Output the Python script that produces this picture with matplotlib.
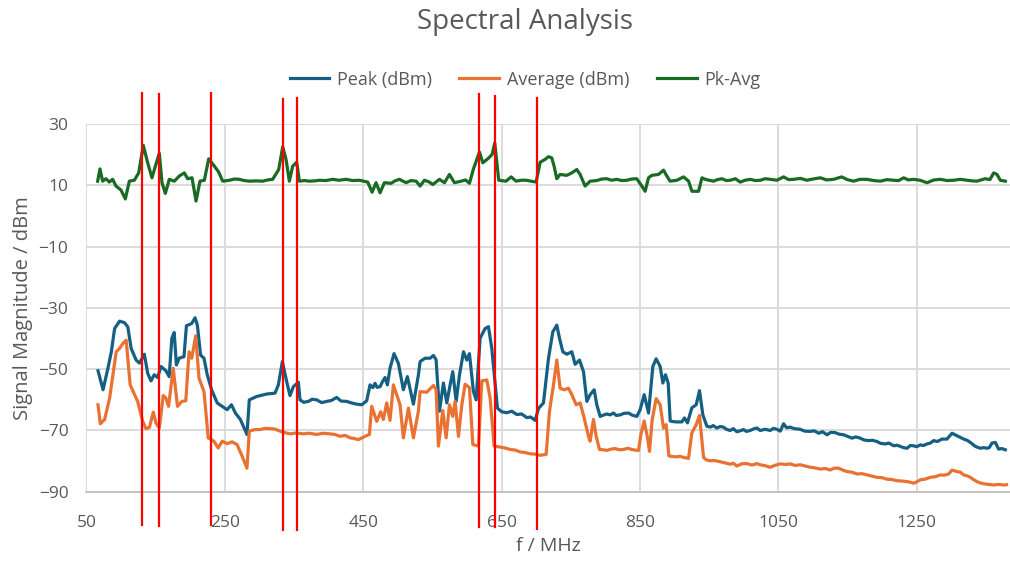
import matplotlib.pyplot as plt

plt.rcParams['font.family'] = ['Open Sans', 'DejaVu Sans']

# Peak (dBm)
freq_peak = [66.7, 74, 81, 86, 90.7, 97.9, 105, 109.8, 114.6, 121.8, 126.6, 133.7, 138.5, 143.3,
             148, 152.9, 157.7, 164.8, 169.6, 173.4, 176.8, 180, 184, 191, 194.5, 202, 207, 210.3,
             215, 219.9, 224.6, 230.9, 239, 246, 253.4, 259.6, 265.3, 272.5, 282, 285.4, 296,
             310.5, 322.6, 327.4, 333.2, 339.4, 344.2, 349.1, 356.3, 358.7, 364, 370.8, 376, 382.8,
             390, 397.3, 404, 411.7, 418, 426.2, 433, 440.6, 448, 455.1, 459.9, 464, 467.2, 470,
             474.4, 478, 481.6, 485, 488.8, 494.6, 500.9, 508.1, 513.9, 522.6, 529.8, 532.3, 539.5,
             546.8, 551.6, 555.4, 560.3, 566, 570.9, 575.7, 579.5, 584.4, 589.2, 595, 599.8, 603.6,
             609.4, 613.3, 619, 626.3, 631.1, 635.9, 644.1, 650.4, 657.6, 664.9, 672.1, 679, 686.5,
             692, 698.6, 703.4, 710.6, 717.9, 724.1, 729.9, 733.8, 738.6, 744.4, 751.6, 756.4,
             762.7, 768.5, 773.3, 778.1, 783.9, 787.7, 792.6, 797, 802.2, 807, 811.8, 816, 821.5,
             827, 833.5, 839, 845.6, 850.4, 856.2, 862.5, 868.7, 873.5, 879.3, 883.2, 887, 890.9,
             893.8, 898, 903.4, 910.6, 914.5, 918.8, 925.1, 931.4, 936.2, 941, 946.8, 952, 956,
             961.3, 966, 970.9, 975, 980.5, 985, 990.2, 995, 999.8, 1004, 1009.5, 1014, 1019.1,
             1024, 1031, 1038.5, 1043, 1048, 1053, 1057.7, 1062, 1067.4, 1073, 1081.8, 1088,
             1096.3, 1102, 1108.4, 1114, 1120.4, 1126, 1132.5, 1138, 1144.5, 1150, 1156.6, 1162,
             1168.6, 1174, 1180.7, 1186, 1192.7, 1198, 1204.8, 1210, 1216.8, 1222, 1226.4, 1231,
             1236.1, 1241, 1245.7, 1250, 1255.4, 1260, 1265, 1270, 1274.6, 1280, 1286.7, 1293.9,
             1301.2, 1308.4, 1313, 1318, 1323, 1327.7, 1334.9, 1342.1, 1347, 1351.8, 1355, 1359,
             1363.8, 1368.6, 1373, 1378.3]
peak = [-50.5, -56.7, -49.7, -44.3, -36.7, -34.3, -34.8, -36.2, -43.2, -47, -48, -45.1, -51.3, -53.8,
        -51.8, -52.7, -49.1, -50.5, -52.4, -39.9, -38, -48.6, -46.4, -45.9, -35.8, -35.1, -33.2, -35.6,
        -45.4, -46.4, -51.8, -56.7, -61, -62.1, -63.2, -61.6, -64.3, -66.4, -71.3, -60, -58.9,
        -58.1, -57.8, -55.1, -47.5, -54, -58.6, -55.7, -54.2, -60, -60.8, -60.5, -59.8, -60,
        -60.9, -60.5, -60.2, -59.2, -60.4, -60.5, -61, -61.4, -61.6, -60.3, -55.1, -56, -54.6, -55.9,
        -55.7, -54, -52.7, -55.1, -49.7, -44.9, -48.1, -56.7, -52.4, -61.4, -51.9, -47.5, -46.4,
        -46.4, -45.5, -46.9, -63.7, -54.5, -61, -55.1, -50.8, -60.5, -51.9, -44.3, -47, -44.9,
        -57.3, -60, -39.9, -36.7, -36.1, -43.2, -62.7, -63.9, -64.2, -63.7, -64.8, -64.6, -65.8,
        -65.6, -66.7, -62.8, -61, -46.4, -37.8, -35.6, -39.9, -44.3, -45.1, -44.3, -48.4,
        -47, -50.8, -60.5, -58.3, -56.7, -61.6, -65.4, -65, -64.6, -64.9, -64.3, -65.1, -64.9,
        -64.4, -64.3, -65, -65.4, -63.2, -58.3, -64.3, -49.1, -46.6, -49.1, -54.5, -51.8, -54.5,
        -66.9, -67.1, -67.2, -67.2, -65.9, -67.5, -62.6, -61.6, -57, -64.9, -68.6, -68.9, -68.4,
        -69.2, -68.7, -68.9, -69.6, -70, -69.4, -70.4, -70.1, -69.7, -70.3, -70, -69.5, -69.2,
        -70, -69.6, -70, -69.3, -69.6, -70.2, -67.8, -69.1, -68.9, -69.4, -69.6, -70.2,
        -70.3, -70.1, -70.9, -70.4, -71.4, -70.6, -70.7, -71.2, -71.4, -71.9, -72.5, -72.1,
        -72.5, -73.1, -73.3, -73.2, -73.6, -74.2, -74.4, -74.1, -75, -74.8, -75.2, -75.6,
        -75.8, -74.9, -75, -75.3, -74.7, -74.9, -74.4, -74.1, -73.3, -73.6, -72.8, -72.8,
        -70.9, -71.7, -72.2, -72.8, -73.2, -73.9, -75.2, -75.8, -75.6, -75.8, -75.6, -74.1,
        -73.9, -76.1, -75.9, -76.3]

# Average (dBm)
freq_avg = [66.7, 70, 76.3, 83.5, 93, 97.9, 102.6, 107.4, 113.2, 124, 131.3, 136, 141, 146.6,
            150.5, 155.3, 161, 164.8, 168.7, 175.4, 181.6, 187.8, 193.6, 198.3, 202.2, 207.9,
            212.7, 219.9, 226, 234.2, 240.4, 246.2, 253.4, 260.5, 267.7, 274.9, 282, 285.4, 294,
            300.9, 308, 315.3, 322, 327.4, 335, 344.2, 353, 363.5, 372, 382.8, 392, 402, 409,
            416.5, 424, 431, 437, 443, 452.7, 459, 462.3, 469.6, 475.3, 479.2, 484, 488.8, 493.7,
            498.5, 503.3, 508.1, 515.4, 522.6, 529.8, 532.3, 541.9, 551.6, 555.4, 558.8, 565.1,
            569.9, 574.7, 579.5, 582.9, 587.7, 592.6, 597.4, 603.6, 608.5, 616.7, 621.5, 628.7,
            633.5, 639.3, 648, 655, 662.4, 670, 676.9, 684, 691.4, 698, 705.8, 714.5, 719.3,
            725.1, 729.9, 734.7, 740.5, 746.8, 751.6, 757.9, 763.7, 769.4, 775.7, 778.1, 782.9,
            786.8, 791.6, 797, 802.2, 808, 814.3, 820, 826.3, 832, 838.4, 843, 848, 851.4, 856.2,
            861, 863.9, 867.8, 873.5, 879.3, 884.1, 888, 891.9, 897, 903.4, 908, 913, 920.3,
            925.1, 931.4, 936.2, 942, 946, 951.6, 958, 966.1, 973, 980.5, 985, 990.2, 997,
            1004.6, 1012, 1019.1, 1024, 1031, 1038.5, 1045, 1052.9, 1060, 1067.4, 1074, 1081.8,
            1089, 1096.3, 1103, 1110.8, 1118, 1125.2, 1131, 1137.3, 1143, 1149.3, 1156, 1163.8,
            1171, 1178.2, 1185, 1192.7, 1200, 1207.2, 1214, 1221.6, 1229, 1236.1, 1241, 1245.7,
            1250, 1255.4, 1262, 1269.8, 1277, 1284.3, 1290, 1296.3, 1301.2, 1308.4, 1313, 1318,
            1323, 1327.7, 1332, 1337.3, 1342, 1346.9, 1354, 1361.4, 1368, 1375.9, 1380]
avg = [-61.6, -67.8, -66.4, -59.4, -44.3, -43.2, -41.6, -40.5, -55.1, -60.5, -67, -69.4, -69, -64,
       -67.6, -69.2, -58.6, -59.4, -62.1, -49.7, -62.1, -60.5, -60.3, -44.3, -46.4, -39.1,
       -52.9, -57.3, -72.4, -73.5, -75.7, -73.5, -74.3, -73.7, -74.6, -78.3, -82.3, -70.2, -69.7,
       -69.7, -69.3, -69.4, -69.5, -70, -70.6, -71.1, -70.8, -71.1, -70.9, -71.3, -70.9, -71.1, -71.3,
       -71.9, -71.6, -72.4, -72.6, -73, -71.9, -71.3, -62.1, -67, -63.9, -66.4, -61, -66.7, -55.1,
       -58.3, -61.6, -72.4, -62.7, -72.4, -63.8, -57.3, -57.5, -55.3, -56.7, -75.1, -63.5,
       -72.4, -61.6, -65.4, -60.5, -71.9, -61.6, -54.9, -56, -74.6, -75.1, -53.8, -53.5,
       -59.4, -75.1, -75.4, -75.7, -76.2, -76.4, -77, -77.2, -77.6, -77.7, -78.1, -77.8, -63.7,
       -55.1, -47, -56.2, -56.7, -56.2, -58.3, -61.6, -61, -65.9, -71.9, -73.5, -66.4,
       -71.9, -76.2, -76.3, -76.5, -76.1, -75.9, -76.3, -76.2, -75.8, -76.2, -76.4, -76.5, -71.3, -66.9,
       -72.4, -76.8, -66.4, -59.6, -61.6, -69.2, -68.1, -78.3, -78.5, -78.6, -78.4, -78.8, -79.1,
       -70.8, -68.1, -65.1, -78.8, -79.6, -79.9, -79.8, -80.2, -80.6, -81, -80.7, -81.6, -80.9,
       -80.8, -81.3, -80.8, -81.2, -81.5, -82, -81.4, -80.9, -81.1, -80.9, -81.4, -81.2,
       -81.6, -82, -82.2, -82.6, -82.4, -82.9, -82.3, -82.3, -82.9, -83.4, -83.6, -84.2,
       -84.1, -84.5, -84.9, -85.3, -85.4, -85.9, -86, -86.4, -86.5, -86.7, -86.9, -87.2,
       -86.8, -86.1, -85.9, -85.3, -85.1, -84.5, -84.6, -84.2, -82.9, -83.4, -83.6, -84.5,
       -84.8, -85.3, -86, -86.7, -87.1, -87.4, -87.6, -87.8, -87.6, -87.8, -87.7]

# Pk-Avg
freq_pkavg = [66.2, 69.5, 73.4, 78.2, 83, 87.9, 92.7, 99.9, 106.2, 112, 119.2, 125.5, 132.2, 138.5,
              144.7, 149.6, 155.3, 159.2, 164, 169.8, 177, 184.3, 191.5, 196.3, 202.6, 208.4,
              214.1, 220.4, 226.7, 234.9, 241.1, 246.9, 256.6, 264, 271, 278, 285.5, 295, 304.8,
              312, 319.2, 327.9, 333.7, 338.5, 343.3, 348.1, 353.9, 357.8, 365, 372.2, 380, 386.7,
              396, 406, 415, 425.3, 435, 444.5, 456.6, 462.9, 468.6, 474.4, 480.7, 490.3, 496,
              502.4, 512, 519, 526.5, 532.3, 538.5, 545, 550.6, 560.2, 567.5, 574.7, 581.9, 591.6,
              598, 603.6, 609.4, 618.1, 622.9, 630.1, 636.4, 640.2, 646, 656.6, 663.9, 671.1, 678,
              685.5, 693, 700, 705.8, 713, 717.8, 722.6, 726, 729.9, 734.7, 744.3, 751.5, 758.8,
              763.6, 770.8, 778, 787.7, 795, 802.2, 809, 816.6, 824, 831.1, 838, 845.5, 852.8,
              857.6, 862.4, 867.2, 876.9, 884.1, 888.9, 893.7, 903.5, 913.1, 920.4, 925.2, 934.8,
              939.7, 944.5, 950, 956.5, 962, 968.6, 975, 980.6, 988, 995.1, 1002, 1009.5, 1017,
              1024, 1031, 1038.5, 1048, 1057.7, 1065, 1072.2, 1082, 1091.5, 1100, 1110.8, 1120,
              1130, 1141.7, 1150, 1159, 1168, 1178.2, 1188, 1197.5, 1207, 1216.8, 1224, 1231.3,
              1238, 1245.7, 1255, 1265, 1275, 1284.3, 1294, 1303.6, 1313, 1322.8, 1330, 1337.3,
              1343, 1349.4, 1356, 1361.4, 1366.2, 1371, 1378.3]
pkavg = [11.4, 15.4, 11.4, 12.2, 11.1, 12, 9.8, 8.5, 5.6, 11.4, 11.7, 14.1, 23.1, 17.4,
         12.5, 16.3, 20.5, 10.9, 7.4, 12, 11.4, 13.1, 14.1, 12.2, 12.5, 4.9,
         11.4, 11.7, 18.7, 16.3, 14.4, 11.4, 11.7, 12.1, 12, 11.6, 11.4, 11.5, 11.4,
         11.8, 12, 15.2, 22.6, 18.5, 11.4, 16.3, 17.6, 11.4, 11.6, 11.4, 11.5, 11.7,
         11.6, 12, 11.7, 12, 11.6, 11.7, 11.1, 7.8, 10.9, 7.6, 10.9, 10.7, 11.5,
         12, 10.9, 11.6, 11.4, 9.8, 11.7, 11.2, 10.3, 12, 10.9, 13.6, 10.9, 11.4,
         11.8, 10.7, 15.4, 20.9, 17.4, 18.7, 20.1, 23.9, 11.7, 11.4, 12.8, 11.4, 11.7,
         11.7, 11.4, 11.1, 17.6, 18.5, 19.4, 19, 16.3, 12.2, 13.6, 13.3, 14.1, 15.2,
         13.6, 9.8, 11.4, 11.6, 12.1, 12.2, 11.7, 12, 11.6, 11.7, 12.1, 12.2, 9.8,
         8.1, 12.5, 13.3, 13.6, 15, 13.1, 11.4, 11.7, 12.8, 11.4, 8.1, 8.1,
         12.5, 12, 11.7, 11.4, 11.9, 12.2, 11.6, 11.7, 12.2, 11.1, 11.7, 12, 11.6,
         11.7, 12.2, 12, 11.7, 12.8, 11.9, 12, 12.3, 11.7, 12.1, 12.5, 11.8,
         12, 12.8, 11.9, 11.4, 12, 12, 11.6, 11.4, 11.9, 11.7, 11.6, 12.5,
         11.8, 12, 11.7, 10.9, 11.8, 12, 11.6, 11.7, 12, 11.7, 11.5, 11.4,
         11.8, 12.2, 11.9, 14.1, 13.6, 11.7, 11.4]

# red marker lines (MHz) and their vertical extent (dBm, past the axes)
marker_freq = [130.7, 154.4, 229.6, 333.7, 354, 617.6, 640.7, 701.9]
marker_top = [40.2, 39.9, 40.2, 38.3, 38.6, 39.9, 39.2, 38.6]
marker_bottom = [-100.9, -101.2, -100.9, -102.5, -102.5, -101.5, -101.5, -102.2]

grey = '#595959'

fig = plt.figure(figsize=(10.1, 5.62), dpi=100)
ax = fig.add_axes([0.0856, 0.125, 0.9144, 0.654])

ax.plot(freq_peak, peak, color='#156082', lw=2.3, label='Peak (dBm)')
ax.plot(freq_avg, avg, color='#E97132', lw=2.3, label='Average (dBm)')
ax.plot(freq_pkavg, pkavg, color='#196B24', lw=2.3, label='Pk-Avg')

for f, top, bot in zip(marker_freq, marker_top, marker_bottom):
    ax.plot([f, f], [bot, top], color='#ff0000', lw=1.6, clip_on=False, zorder=5)

ax.set_xlim(50, 1385)
ax.set_ylim(-90, 30)
ax.set_xticks(range(50, 1300, 200))
ax.set_yticks(range(-90, 31, 20))
ax.grid(color='#d9d9d9', lw=1.3)
ax.set_axisbelow(True)
for s in ['top', 'right', 'left']:
    ax.spines[s].set_visible(False)
ax.spines['bottom'].set_color('#bfbfbf')
ax.spines['bottom'].set_linewidth(1.3)
ax.tick_params(length=0, colors=grey, labelsize=12.5)
ax.tick_params(axis='x', pad=17)
ax.tick_params(axis='y', pad=13)

ax.set_xlabel('f / MHz', color=grey, fontsize=14, labelpad=4)
ax.set_ylabel('Signal Magnitude / dBm', color=grey, fontsize=14.5, labelpad=4)

fig.text(0.52, 0.96, 'Spectral Analysis', ha='center', va='center', color=grey, fontsize=20)
fig.legend(loc='center', bbox_to_anchor=(0.52, 0.858), ncol=3, frameon=False,
           fontsize=13, labelcolor=grey, handlelength=2.2, handletextpad=0.45,
           columnspacing=1.5)

fig.savefig('out.png', dpi=100)
